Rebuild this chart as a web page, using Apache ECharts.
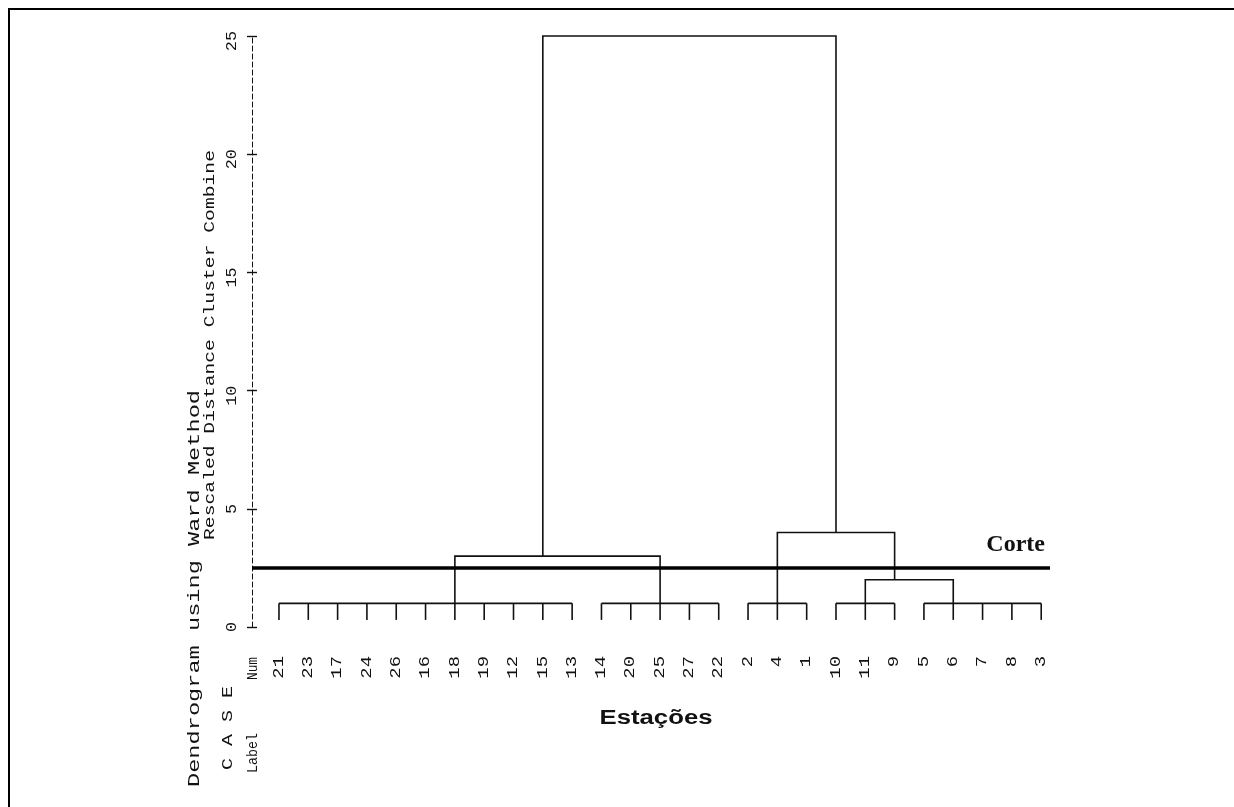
<!DOCTYPE html>
<html>
<head>
<meta charset="utf-8">
<script src="https://cdn.jsdelivr.net/npm/echarts@6/dist/echarts.min.js"></script>
<style>
  html, body { margin: 0; padding: 0; background: #fff; }
  #chart { width: 1234px; height: 807px; }
</style>
</head>
<body>
<div id="chart"></div>
<script>
// Case labels in dendrogram order (left to right)
const leaves = ['21','23','17','24','26','16','18','19','12','15','13','14','20','25','27','22','2','4','1','10','11','9','5','6','7','8','3'];
// Rescaled distance axis ticks
const yTicks = [0, 5, 10, 15, 20, 25];
// Distance at which each leaf stub begins
const leafBase = 0.3;
// First-level clusters: leaf index range and joining distance
const groupStart = [0, 11, 16, 19, 22];
const groupEnd = [10, 15, 18, 21, 26];
const groupHeight = [1, 1, 1, 1, 1];
// Higher merges: left/right stem positions, the distances the stems rise from, and the join distance
const mergeLeft = [6, 20, 17, 9];
const mergeRight = [13, 23, 21, 19];
const mergeLeftFrom = [1, 1, 1, 3];
const mergeRightFrom = [1, 1, 2, 4];
const mergeHeight = [3, 2, 4, 25];
// Cut level
const cutHeight = 2.5;

const INK = '#111';
const MONO = '"Liberation Mono", "DejaVu Sans Mono", monospace';
const linkStyle = { stroke: INK, lineWidth: 1.6, fill: null };

const chart = echarts.init(document.getElementById('chart'), null, { renderer: 'canvas' });

const measureCtx = document.createElement('canvas').getContext('2d');
function textWidth(text, font) {
  measureCtx.font = font;
  return measureCtx.measureText(text).width;
}
// Vertical text reading bottom-to-top, stretched to run from yBottom to yTop
function verticalText(text, fontSize, xCenter, yBottom, yTop) {
  const font = fontSize + 'px ' + MONO;
  return {
    type: 'text', x: xCenter, y: yBottom, rotation: Math.PI / 2,
    scaleX: (yBottom - yTop) / textWidth(text, font),
    silent: true,
    style: { text: text, font: font, fill: INK, align: 'left', verticalAlign: 'middle' }
  };
}

const titleFont = 'bold 20px "Liberation Sans", Arial, sans-serif';

function renderGroup(params, api) {
  const s = api.value(0), e = api.value(1), h = api.value(2);
  const children = [];
  const l = api.coord([s, h]), r = api.coord([e, h]);
  children.push({ type: 'line', shape: { x1: l[0], y1: l[1], x2: r[0], y2: r[1] }, style: linkStyle });
  for (let i = s; i <= e; i++) {
    const a = api.coord([i, leafBase]), b = api.coord([i, h]);
    children.push({ type: 'line', shape: { x1: a[0], y1: a[1], x2: b[0], y2: b[1] }, style: linkStyle });
  }
  return { type: 'group', children: children };
}

function renderMerge(params, api) {
  const xl = api.value(0), xr = api.value(1), fl = api.value(2), fr = api.value(3), h = api.value(4);
  const pts = [api.coord([xl, fl]), api.coord([xl, h]), api.coord([xr, h]), api.coord([xr, fr])];
  return { type: 'polyline', shape: { points: pts }, style: linkStyle };
}

function renderLeafLabel(params, api) {
  const p = api.coord([api.value(0), 0]);
  return {
    type: 'text', x: p[0], y: p[1] + 29, rotation: Math.PI / 2, scaleX: 1.35,
    style: { text: leaves[params.dataIndex], font: '14px ' + MONO, fill: INK, align: 'right', verticalAlign: 'middle' }
  };
}

function renderTickLabel(params, api) {
  const p = api.coord([0, api.value(1)]);
  return {
    type: 'text', x: params.coordSys.x - 20, y: p[1] - 5, rotation: Math.PI / 2, scaleX: 1.2,
    style: { text: String(yTicks[params.dataIndex]), font: '14px ' + MONO, fill: INK, align: 'right', verticalAlign: 'middle' }
  };
}

const axisCommon = {
  type: 'value', min: 0, max: 25, interval: 5, position: 'left',
  axisLabel: { show: false }, splitLine: { show: false }
};

chart.setOption({
  animation: false,
  backgroundColor: '#fff',
  grid: { left: 252, top: 36, right: 184, bottom: 180, containLabel: false },
  xAxis: { type: 'value', min: -0.92, max: 26.3, show: false },
  yAxis: [
    Object.assign({}, axisCommon, {
      axisLine: { show: true, onZero: false, lineStyle: { color: INK, width: 1, type: [5, 3] } },
      axisTick: { show: true, length: 5, lineStyle: { color: INK, width: 1.4 } }
    }),
    Object.assign({}, axisCommon, {
      axisLine: { show: false, onZero: false },
      axisTick: { show: true, inside: true, length: 5, lineStyle: { color: INK, width: 1.4 } }
    })
  ],
  graphic: [
    // open frame
    { type: 'polyline', silent: true, shape: { points: [[9, 807], [9, 9], [1234, 9]] }, style: { stroke: '#000', lineWidth: 2, fill: null } },
    verticalText('Dendrogram using Ward Method', 16, 195, 787, 390),
    verticalText('Rescaled Distance Cluster Combine', 15, 210, 540, 150),
    verticalText('C A S E', 14, 228, 770, 686),
    verticalText('Label', 15, 253, 773, 733),
    verticalText('Num', 15, 253, 680, 657),
    {
      type: 'text', x: 656, y: 718, silent: true,
      scaleX: 113 / textWidth('Estações', titleFont),
      style: { text: 'Estações', font: titleFont, fill: INK, align: 'center', verticalAlign: 'middle' }
    }
  ],
  series: [
    {
      type: 'custom', name: 'clusters', renderItem: renderGroup, silent: true,
      encode: { x: [0, 1], y: 2 },
      data: groupStart.map((s, i) => [s, groupEnd[i], groupHeight[i]])
    },
    {
      type: 'custom', name: 'merges', renderItem: renderMerge, silent: true,
      encode: { x: [0, 1], y: [2, 3, 4] },
      data: mergeLeft.map((l, i) => [l, mergeRight[i], mergeLeftFrom[i], mergeRightFrom[i], mergeHeight[i]]),
      markLine: {
        silent: true, symbol: 'none', animation: false,
        lineStyle: { color: '#000', width: 3.5, type: 'solid' },
        label: {
          show: true, position: 'insideEndTop', formatter: 'Corte',
          fontFamily: '"Liberation Serif", "Times New Roman", serif', fontWeight: 'bold', fontSize: 24,
          color: INK, distance: [5, 11]
        },
        data: [{ yAxis: cutHeight }]
      }
    },
    {
      type: 'custom', name: 'leafLabels', renderItem: renderLeafLabel, silent: true,
      encode: { x: 0, y: 1 },
      data: leaves.map((l, i) => [i, 0])
    },
    {
      type: 'custom', name: 'tickLabels', renderItem: renderTickLabel, silent: true,
      encode: { x: 0, y: 1 },
      data: yTicks.map(v => [0, v])
    }
  ]
});
</script>
</body>
</html>
